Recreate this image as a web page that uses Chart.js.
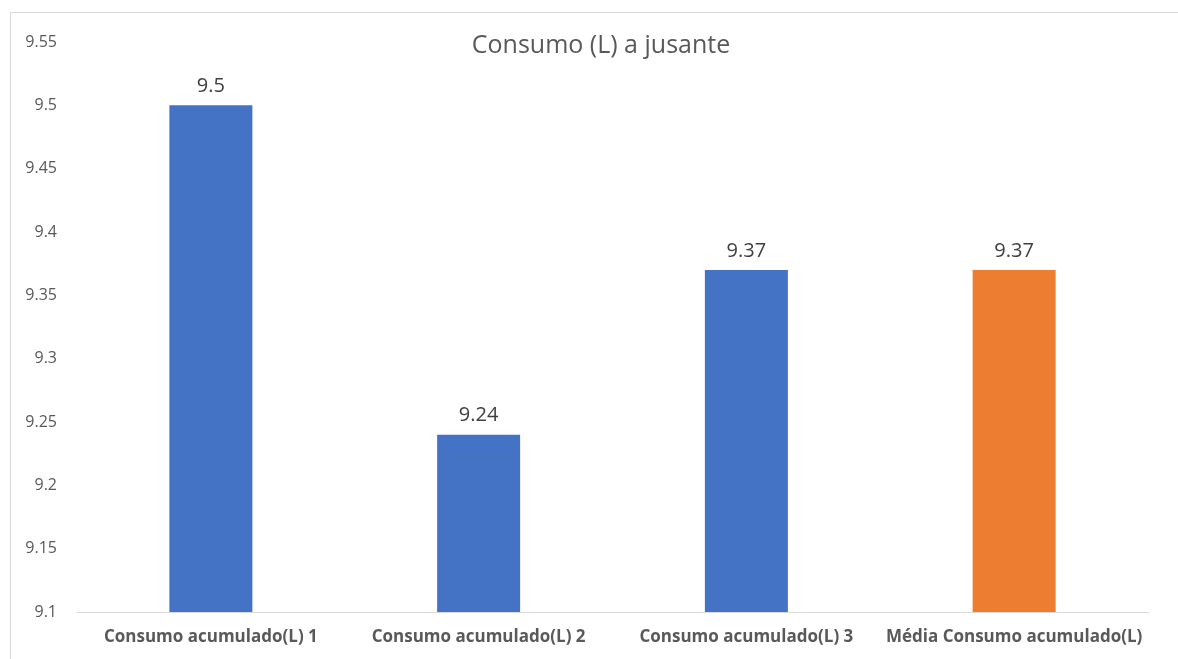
<!DOCTYPE html>
<html>
<head>
<meta charset="utf-8">
<title>Consumo (L) a jusante</title>
<script src="https://cdn.jsdelivr.net/npm/chart.js@4.4.1/dist/chart.umd.min.js"></script>
<style>
  html, body { margin: 0; padding: 0; background: #fff; overflow: hidden; }
  #frame {
    position: absolute; left: 10px; top: 12px;
    width: 1200px; height: 700px;
    border: 1px solid #d9d9d9; box-sizing: border-box;
  }
  #wrap { position: absolute; left: 0; top: 0; width: 1178px; height: 659px; }
</style>
</head>
<body>
<div id="frame"></div>
<div id="wrap"><canvas id="chart" width="1178" height="659"></canvas></div>
<script>
// Consumo acumulado por ensaio e média (litros)
const titleText = 'Consumo (L) a jusante';
const categories = ['Consumo acumulado(L) 1', 'Consumo acumulado(L) 2', 'Consumo acumulado(L) 3', 'Média Consumo acumulado(L)'];
const consumo = [9.5, 9.24, 9.37, 9.37];
const barColors = ['#4472c4', '#4472c4', '#4472c4', '#ed7d31'];
const yMin = 9.1, yMax = 9.55, yStep = 0.05;

const FONT = '"Open Sans", "Noto Sans", sans-serif';
const GREY = '#595959';

// title sits inside the plot area, so draw it by hand
const titlePlugin = {
  id: 'titleInside',
  afterDraw(chart) {
    const ctx = chart.ctx;
    ctx.save();
    ctx.font = '25px ' + FONT;
    ctx.fillStyle = GREY;
    ctx.textAlign = 'center';
    ctx.textBaseline = 'middle';
    ctx.fillText(titleText, 601, 46);
    ctx.restore();
  }
};

// value above each bar
const valueLabels = {
  id: 'valueLabels',
  afterDatasetsDraw(chart) {
    const ctx = chart.ctx;
    const meta = chart.getDatasetMeta(0);
    ctx.save();
    ctx.font = '20px ' + FONT;
    ctx.fillStyle = '#404040';
    ctx.textAlign = 'center';
    ctx.textBaseline = 'bottom';
    meta.data.forEach((bar, i) => {
      ctx.fillText(String(consumo[i]), bar.x, bar.y - 9);
    });
    ctx.restore();
  }
};

new Chart(document.getElementById('chart'), {
  type: 'bar',
  data: {
    labels: categories,
    datasets: [{
      data: consumo,
      backgroundColor: barColors,
      borderWidth: 0,
      barPercentage: 0.31,
      categoryPercentage: 1
    }]
  },
  options: {
    responsive: false,
    animation: false,
    layout: { padding: { top: 42, right: 30, bottom: 0, left: 0 } },
    plugins: {
      legend: { display: false },
      tooltip: { enabled: false }
    },
    scales: {
      x: {
        grid: { display: false, drawTicks: false },
        border: { display: true, color: '#d9d9d9', width: 1 },
        ticks: {
          color: GREY,
          padding: 15,
          maxRotation: 0,
          autoSkip: false,
          font: { family: FONT, size: 17, weight: 'bold' }
        },
        afterFit(scale) { scale.height = 47; }
      },
      y: {
        min: yMin,
        max: yMax,
        grid: { display: false, drawTicks: false },
        border: { display: false },
        ticks: {
          stepSize: yStep,
          color: GREY,
          padding: 20,
          font: { family: FONT, size: 16 },
          callback: v => String(Math.round(v * 100) / 100)
        },
        afterFit(scale) { scale.width = 77; }
      }
    }
  },
  plugins: [titlePlugin, valueLabels]
});
</script>
</body>
</html>
